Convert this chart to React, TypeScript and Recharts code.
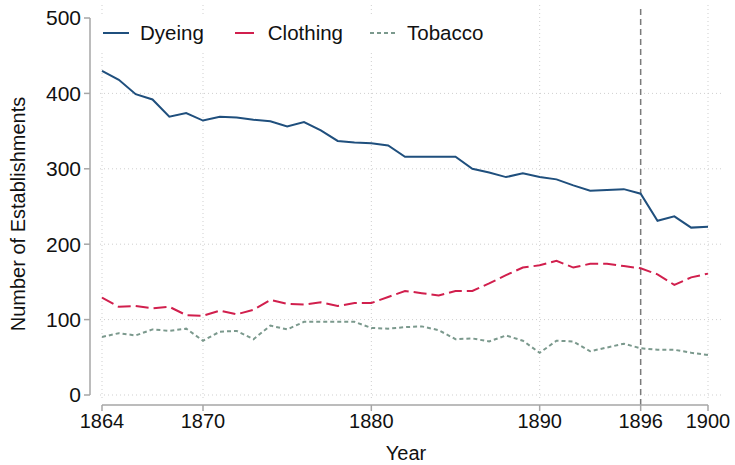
import React from 'react';
import {
  LineChart,
  Line,
  XAxis,
  YAxis,
  CartesianGrid,
  ReferenceLine,
  Legend,
} from 'recharts';

const years = [
  1864, 1865, 1866, 1867, 1868, 1869, 1870, 1871, 1872, 1873, 1874, 1875, 1876,
  1877, 1878, 1879, 1880, 1881, 1882, 1883, 1884, 1885, 1886, 1887, 1888, 1889,
  1890, 1891, 1892, 1893, 1894, 1895, 1896, 1897, 1898, 1899, 1900,
];

const dyeing = [
  430, 418, 399, 392, 369, 374, 364, 369, 368, 365, 363, 356, 362, 351, 337, 335,
  334, 331, 316, 316, 316, 316, 300, 295, 289, 294, 289, 286, 278, 271, 272, 273,
  267, 231, 237, 222, 223,
];

const clothing = [
  129, 117, 118, 115, 117, 106, 105, 112, 107, 113, 126, 121, 120, 123, 118, 122,
  122, 130, 138, 135, 132, 138, 138, 148, 159, 169, 172, 178, 169, 174, 174, 171,
  168, 160, 146, 156, 161,
];

const tobacco = [
  77, 82, 79, 87, 85, 88, 72, 84, 85, 74, 92, 87, 97, 97, 97, 97, 89, 88, 90, 91,
  86, 74, 75, 71, 79, 72, 56, 72, 71, 58, 63, 68, 62, 60, 60, 56, 53,
];

const xTicks = [1864, 1870, 1880, 1890, 1896, 1900];
const yTicks = [0, 100, 200, 300, 400, 500];
const xGrid = [1864, 1870, 1880, 1890, 1900];
const yGrid = [0, 100, 200, 300, 400];
const breakYear = 1896;

const data = years.map((year, i) => ({
  year,
  dyeing: dyeing[i],
  clothing: clothing[i],
  tobacco: tobacco[i],
}));

const FONT = '"Liberation Sans", Arial, sans-serif';
const AXIS_GREY = '#a6a6a6';

const series = [
  { key: 'dyeing', name: 'Dyeing', color: '#1f4f7d', dash: undefined, legendDash: undefined },
  { key: 'clothing', name: 'Clothing', color: '#d11f4d', dash: '13 5', legendDash: '0 4 19 100' },
  { key: 'tobacco', name: 'Tobacco', color: '#7b998d', dash: '4 3', legendDash: '4 3' },
];

const LegendBox = () => (
  <div
    style={{
      display: 'flex',
      alignItems: 'center',
      background: '#fff',
      height: 38,
      padding: '0 8px',
      fontFamily: FONT,
      fontSize: 20.5,
      color: '#111',
    }}
  >
    {series.map((s) => (
      <div key={s.key} style={{ display: 'flex', alignItems: 'center', marginRight: 27 }}>
        <svg width={26} height={10} style={{ marginRight: 11 }}>
          <line x1={0} y1={5} x2={26} y2={5} stroke={s.color} strokeWidth={2} strokeDasharray={s.legendDash} />
        </svg>
        <span>{s.name}</span>
      </div>
    ))}
  </div>
);

const YTitle = (props: any) => {
  const { x, y, height } = props.viewBox;
  const cx = x + 18;
  const cy = y + height / 2 + 9;
  return (
    <text
      x={cx}
      y={cy}
      transform={`rotate(-90 ${cx} ${cy})`}
      textAnchor="middle"
      dominantBaseline="central"
      fontFamily={FONT}
      fontSize={20}
      fill="#111"
    >
      Number of Establishments
    </text>
  );
};

const XTitle = (props: any) => {
  const { x, width } = props.viewBox;
  return (
    <text x={x + width / 2} y={453} textAnchor="middle" dominantBaseline="central" fontFamily={FONT} fontSize={20} fill="#111">
      Year
    </text>
  );
};

const App = () => {
  return (
    <div style={{ width: 735, height: 465, background: '#fff' }}>
      <style>{`body{margin:0}`}</style>
      <LineChart width={735} height={465} data={data} margin={{ top: 5, right: 13, left: 0, bottom: 0 }}>
        <CartesianGrid
          x={100}
          y={5}
          width={622}
          height={393}
          stroke="#cfcfcf"
          strokeDasharray="1 3"
          horizontalValues={yGrid}
          verticalValues={xGrid}
        />
        <XAxis
          dataKey="year"
          type="number"
          domain={[1864, 1900]}
          ticks={xTicks}
          interval={0}
          padding={{ left: 12, right: 14 }}
          height={60}
          tickSize={6}
          tickMargin={3}
          axisLine={{ stroke: AXIS_GREY, strokeWidth: 1.5, strokeDasharray: '0 12 606 1000' }}
          tickLine={{ stroke: AXIS_GREY, strokeWidth: 1.5 }}
          tick={{ fill: '#111', fontSize: 20, fontFamily: FONT }}
          label={{ content: XTitle }}
        />
        <YAxis
          type="number"
          domain={[0, 500]}
          ticks={yTicks}
          interval={0}
          width={90}
          padding={{ top: 13, bottom: 10 }}
          tickSize={6}
          tickMargin={3}
          axisLine={{ stroke: AXIS_GREY, strokeWidth: 1.5, strokeDasharray: '0 13 377 1000' }}
          tickLine={{ stroke: AXIS_GREY, strokeWidth: 1.5 }}
          tick={{ fill: '#111', fontSize: 21, fontFamily: FONT }}
          label={{ content: YTitle }}
        />
        <ReferenceLine x={breakYear} stroke="#7a7a7a" strokeWidth={1.5} strokeDasharray="6 4" />
        <Legend
          layout="horizontal"
          verticalAlign="middle"
          content={<LegendBox />}
          wrapperStyle={{ top: 14, left: 95, width: 'auto' }}
        />
        {series.map((s) => (
          <Line
            key={s.key}
            type="linear"
            dataKey={s.key}
            name={s.name}
            stroke={s.color}
            strokeWidth={2}
            strokeDasharray={s.dash}
            dot={false}
            activeDot={false}
            isAnimationActive={false}
          />
        ))}
      </LineChart>
    </div>
  );
};

export default App;
